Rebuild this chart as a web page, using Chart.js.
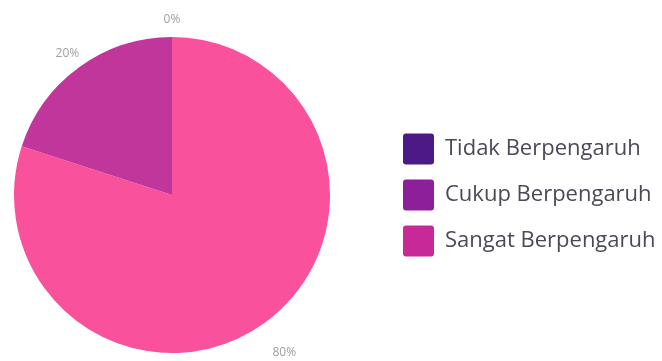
<!DOCTYPE html>
<html>
<head>
<meta charset="utf-8">
<script src="https://cdn.jsdelivr.net/npm/chart.js@4.4.1/dist/chart.umd.min.js"></script>
<style>
  html, body { margin: 0; padding: 0; background: #fff; }
  #wrap { width: 662px; height: 361px; }
</style>
</head>
<body>
<div id="wrap"><canvas id="pie"></canvas></div>
<script>
// Data (drawn order: Sangat, Cukup, Tidak; legend is reversed)
const labels = ['Sangat Berpengaruh', 'Cukup Berpengaruh', 'Tidak Berpengaruh'];
const values = [80, 20, 0]; // percent
const sliceColors = ['#f9519b', '#c0369a', '#4b1a86'];
const legendColors = ['#c72a98', '#8e1f9a', '#4b1a86'];

// Percent labels outside each slice
const outsideLabels = {
    id: 'outsideLabels',
    afterDatasetsDraw(chart) {
        const ctx = chart.ctx;
        const meta = chart.getDatasetMeta(0);
        ctx.save();
        ctx.font = '12px "Open Sans"';
        ctx.fillStyle = '#a0a0a0';
        ctx.textAlign = 'center';
        ctx.textBaseline = 'middle';
        meta.data.forEach(function (arc, i) {
            const p = arc.getProps(['x', 'y', 'startAngle', 'endAngle', 'outerRadius'], true);
            const mid = (p.startAngle + p.endAngle) / 2;
            // labels under the pie sit a little further out
            const r = p.outerRadius + 20 + 16 * Math.max(0, Math.sin(mid));
            ctx.fillText(values[i] + '%', p.x + Math.cos(mid) * r, p.y + Math.sin(mid) * r + 3);
        });
        ctx.restore();
    }
};

// Legend takes the right part; its items are pushed a bit further right
const legendPlace = {
    id: 'legendPlace',
    beforeInit(chart) {
        const fit = chart.legend.fit;
        chart.legend.fit = function () {
            fit.bind(chart.legend)();
            this.width = 318;
        };
    },
    afterLayout(chart) {
        chart.legend.left += 44;
        chart.legend.right += 44;
    }
};

const chart = new Chart(document.getElementById('pie'), {
    type: 'pie',
    data: {
        labels: labels,
        datasets: [{
            data: values,
            backgroundColor: sliceColors,
            borderWidth: 0
        }]
    },
    options: {
        responsive: true,
        maintainAspectRatio: false,
        animation: false,
        layout: { padding: { left: 0, right: 0, top: 37, bottom: 8 } },
        plugins: {
            tooltip: { enabled: false },
            legend: {
                position: 'right',
                reverse: true,
                labels: {
                    boxWidth: 31,
                    boxHeight: 31,
                    padding: 15,
                    useBorderRadius: true,
                    borderRadius: 3,
                    color: '#4a4a57',
                    font: { family: '"Open Sans"', size: 22 },
                    generateLabels(chart) {
                        const items = Chart.controllers.pie.overrides.plugins.legend.labels.generateLabels(chart);
                        items.forEach(function (item) {
                            item.fillStyle = legendColors[item.index];
                            item.strokeStyle = legendColors[item.index];
                            item.lineWidth = 0;
                            item.hidden = false;
                        });
                        return items;
                    }
                }
            }
        }
    },
    plugins: [legendPlace, outsideLabels]
});
</script>
</body>
</html>
